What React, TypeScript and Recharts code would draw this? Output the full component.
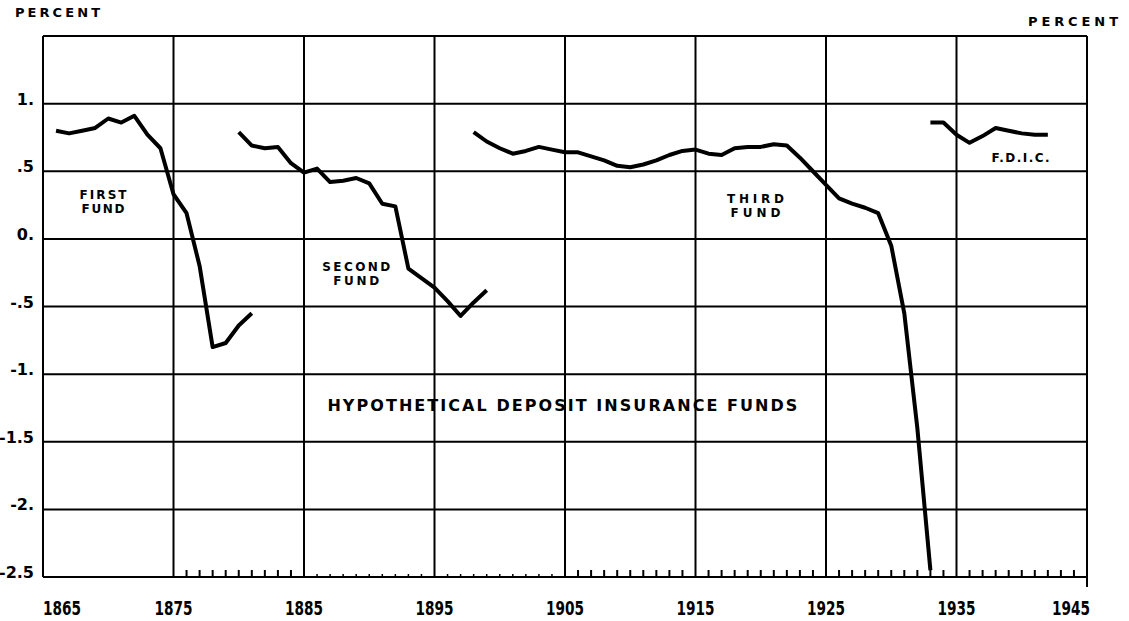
import {
  CartesianGrid,
  Customized,
  Line,
  LineChart,
  ReferenceDot,
  XAxis,
  YAxis,
} from 'recharts';

const firstFundYears = [1866, 1867, 1868, 1869, 1870, 1871, 1872, 1873, 1874, 1875, 1876, 1877, 1878, 1879, 1880, 1881];
const firstFundValues = [0.8, 0.78, 0.8, 0.82, 0.89, 0.86, 0.91, 0.77, 0.67, 0.33, 0.19, -0.2, -0.8, -0.77, -0.64, -0.55];

const secondFundYears = [
  1880, 1881, 1882, 1883, 1884, 1885, 1886, 1887, 1888, 1889,
  1890, 1891, 1892, 1893, 1894, 1895, 1896, 1897, 1898, 1899,
];
const secondFundValues = [
  0.79, 0.69, 0.67, 0.68, 0.56, 0.49, 0.52, 0.42, 0.43, 0.45,
  0.41, 0.26, 0.24, -0.22, -0.29, -0.36, -0.46, -0.57, -0.47, -0.38,
];

const thirdFundYears = [
  1898, 1899, 1900, 1901, 1902, 1903, 1904, 1905, 1906, 1907, 1908, 1909,
  1910, 1911, 1912, 1913, 1914, 1915, 1916, 1917, 1918, 1919, 1920, 1921,
  1922, 1923, 1924, 1925, 1926, 1927, 1928, 1929, 1930, 1931, 1932, 1933,
];
const thirdFundValues = [
  0.79, 0.72, 0.67, 0.63, 0.65, 0.68, 0.66, 0.64, 0.64, 0.61, 0.58, 0.54,
  0.53, 0.55, 0.58, 0.62, 0.65, 0.66, 0.63, 0.62, 0.67, 0.68, 0.68, 0.7,
  0.69, 0.6, 0.5, 0.4, 0.3, 0.26, 0.23, 0.19, -0.05, -0.55, -1.4, -2.45,
];

const fdicYears = [1933, 1934, 1935, 1936, 1937, 1938, 1939, 1940, 1941, 1942];
const fdicValues = [0.86, 0.86, 0.77, 0.71, 0.76, 0.82, 0.8, 0.78, 0.77, 0.77];

const decadeTicks = [1865, 1875, 1885, 1895, 1905, 1915, 1925, 1935, 1945];
const percentTicks = [-2.5, -2, -1.5, -1, -0.5, 0, 0.5, 1, 1.5];
const leftTickLabels = ['-2.5', '-2.', '-1.5', '-1.', '-.5', '0.', '.5', '1.', ''];
const rightTickLabels = ['-2.5', '-2.', '-1.5', '-1.', '-.5', '0', '.5', '1.', ''];

// small yearly marks along the bottom edge
const minorYears = [
  1876, 1877, 1878, 1879, 1880, 1881, 1882, 1883, 1884,
  1906, 1907, 1908, 1909, 1910, 1911, 1912, 1913, 1914,
  1916, 1917, 1918, 1919, 1920, 1921, 1922, 1923, 1924,
  1926, 1927, 1928, 1929, 1930, 1931, 1932, 1933, 1934,
  1936, 1937, 1938, 1939, 1940, 1941, 1942, 1943, 1944,
];
const faintYears = [
  1886, 1887, 1888, 1889, 1890, 1891, 1892, 1893, 1894,
  1896, 1897, 1898, 1899, 1900, 1901, 1902, 1903, 1904,
];

const notes = [
  { year: 1869.6, value: 0.28, lines: ['FIRST', 'FUND'], widths: [47, 43] },
  { year: 1889.0, value: -0.25, lines: ['SECOND', 'FUND'], widths: [68, 46] },
  { year: 1919.6, value: 0.25, lines: ['THIRD', 'FUND'], widths: [57, 50] },
  { year: 1939.9, value: 0.61, lines: ['F.D.I.C.'], widths: [58] },
  { year: 1904.8, value: -1.23, lines: ['HYPOTHETICAL DEPOSIT INSURANCE FUNDS'], widths: [470], big: true },
];

const zip = (years: number[], values: number[]) =>
  years.map((year, i) => ({ year, value: values[i] }));

const series = [
  zip(firstFundYears, firstFundValues),
  zip(secondFundYears, secondFundValues),
  zip(thirdFundYears, thirdFundValues),
  zip(fdicYears, fdicValues),
];

const allYears = [...decadeTicks, ...minorYears, ...faintYears].sort((a, b) => a - b);

const W = 1129;
const H = 621;
const sans = "'DejaVu Sans', sans-serif";
const narrow = "'Liberation Sans Narrow', 'DejaVu Sans Condensed', sans-serif";

function YearTick({ x, y, payload }: any) {
  const v = payload.value;
  if (decadeTicks.includes(v)) {
    const shift = v === 1865 ? 19 : v === 1945 ? -16 : 0;
    return (
      <g>
        {v === 1945 && <line x1={x} x2={x} y1={y} y2={y + 10} stroke="#000" strokeWidth={2} />}
        <text
          x={x + shift - 19}
          y={y + 38}
          textLength={38}
          lengthAdjust="spacingAndGlyphs"
          fontFamily={narrow}
          fontWeight={700}
          fontSize={19}
          fill="#000"
        >
          {v}
        </text>
      </g>
    );
  }
  const faint = faintYears.includes(v);
  return <line x1={x} x2={x} y1={y} y2={y - (faint ? 3 : 7)} stroke="#000" strokeWidth={faint ? 1.5 : 2} />;
}

function LeftTick({ x, y, index }: any) {
  return (
    <text x={x - 9} y={y + 1} textAnchor="end" fontFamily={sans} fontWeight={700} fontSize={16} fill="#000">
      {leftTickLabels[index]}
    </text>
  );
}

function RightTick({ x, y, index }: any) {
  return (
    <text x={x + 8} y={y + 1} textAnchor="start" fontFamily={sans} fontWeight={700} fontSize={16} fill="#000">
      {rightTickLabels[index]}
    </text>
  );
}

function Headings() {
  return (
    <g fontFamily={sans} fontWeight={700} fontSize={13} fill="#000">
      <text x={15} y={17} textLength={85} lengthAdjust="spacing">PERCENT</text>
      <text x={1028} y={26} textLength={90} lengthAdjust="spacing">PERCENT</text>
    </g>
  );
}

// vertical grid only at the decades, through the x scale
function decadeLines({ xAxis, offset }: any) {
  if (xAxis && typeof xAxis.scale === 'function') {
    return decadeTicks.map(t => xAxis.scale(t));
  }
  return decadeTicks.map(t => offset.left + ((t - 1865) / 80) * offset.width);
}

export default function App() {
  return (
    <div style={{ position: 'absolute', left: 0, top: 0, width: W, height: H }}>
      <LineChart width={W} height={H} margin={{ top: 36, right: 0, bottom: 0, left: 0 }}>
        <CartesianGrid
          xAxisId="x"
          yAxisId="l"
          stroke="#000"
          strokeWidth={2}
          verticalCoordinatesGenerator={decadeLines}
        />
        <XAxis
          xAxisId="x"
          type="number"
          dataKey="year"
          domain={[1865, 1945]}
          ticks={allYears}
          interval={0}
          allowDataOverflow
          height={44}
          tickSize={0}
          tickMargin={0}
          tickLine={false}
          axisLine={{ stroke: '#000', strokeWidth: 2 }}
          tick={<YearTick />}
        />
        <YAxis
          yAxisId="l"
          domain={[-2.5, 1.5]}
          ticks={percentTicks}
          interval={0}
          width={43}
          tickSize={0}
          tickMargin={0}
          tickLine={false}
          axisLine={{ stroke: '#000', strokeWidth: 2 }}
          tick={<LeftTick />}
        />
        <YAxis
          yAxisId="r"
          orientation="right"
          domain={[-2.5, 1.5]}
          ticks={percentTicks}
          interval={0}
          width={42}
          tickSize={0}
          tickMargin={0}
          tickLine={false}
          axisLine={{ stroke: '#000', strokeWidth: 2 }}
          tick={<RightTick />}
        />
        {series.map((data, i) => (
          <Line
            key={i}
            xAxisId="x"
            yAxisId="l"
            data={data}
            dataKey="value"
            type="linear"
            stroke="#000"
            strokeWidth={4}
            strokeLinejoin="round"
            dot={false}
            isAnimationActive={false}
          />
        ))}
        {notes.map((n, i) => (
          <ReferenceDot
            key={i}
            xAxisId="x"
            yAxisId="l"
            x={n.year}
            y={n.value}
            r={0}
            shape={(p: any) => (
              <g fontFamily={sans} fontWeight={700} fill="#000" fontSize={n.big ? 16 : 12}>
                {n.lines.map((line, j) => (
                  <text
                    key={j}
                    x={p.cx - n.widths[j] / 2}
                    y={p.cy + (n.lines.length === 1 ? 6 : j === 0 ? -2 : 12)}
                    textLength={n.widths[j]}
                    lengthAdjust="spacing"
                  >
                    {line}
                  </text>
                ))}
              </g>
            )}
          />
        ))}
        <Customized component={Headings} />
      </LineChart>
    </div>
  );
}
